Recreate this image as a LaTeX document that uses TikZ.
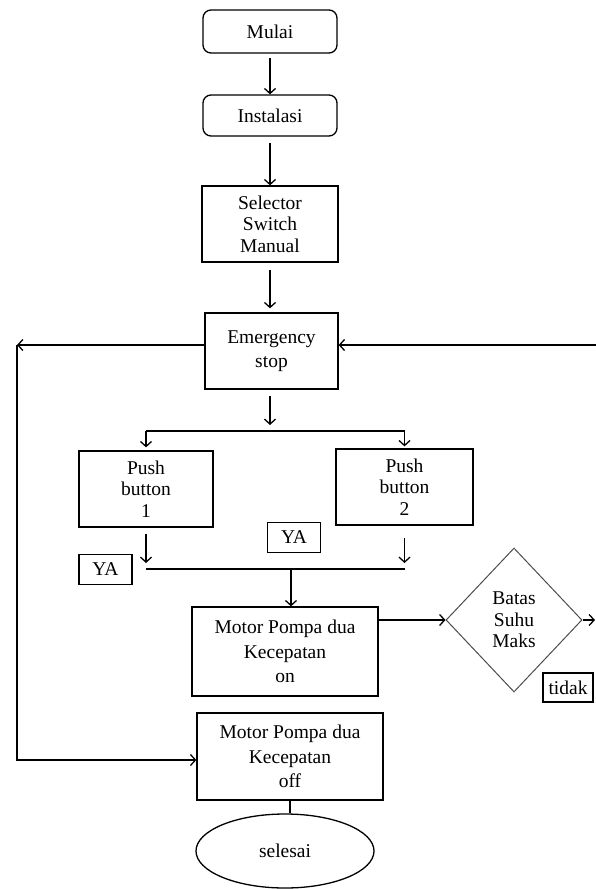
\documentclass[tikz,border=0pt]{standalone}
\usepackage{fontspec}
\setmainfont{Liberation Serif}
\usepackage{tikz}
\usetikzlibrary{positioning, shapes.geometric, arrows.meta}

\tikzset{
  txt/.style={font=\fontsize{19.5}{21.5}\selectfont, align=center, inner sep=0pt},
  rbox/.style={txt, draw, line width=1.3pt, rounded corners=8pt, minimum width=134pt},
  pbox/.style={txt, draw, line width=1.3pt},
  lbl/.style={txt, draw, line width=1.3pt, minimum width=53pt, minimum height=30pt},
  arr/.style={line width=1.3pt, -{Straight Barb[length=5pt,width=11pt]}},
  ln/.style={line width=1.3pt},
}

\begin{document}
\begin{tikzpicture}[x=1pt, y=-1pt]
            \useasboundingbox (0,0) rectangle (595,889);

            %Nodes
            \node[rbox, minimum height=43pt] at (270,31.5)  (mulai)     {Mulai};
            \node[rbox, minimum height=41pt] at (270,115.5) (instalasi) {Instalasi};
            \node[pbox, minimum width=136pt, minimum height=76pt] at (270,224) (selector) {Selector\\Switch\\Manual};
            \node[pbox, minimum width=133pt, minimum height=76pt] at (271.5,351) (emergency) {Emergency\\[2pt]stop};
            \node[pbox, minimum width=134pt, minimum height=76pt] at (146,489)   (pb1) {Push\\button\\1};
            \node[pbox, minimum width=137pt, minimum height=76pt] at (404.5,487) (pb2) {Push\\button\\2};
            \node[lbl] at (105.5,569.5) (ya1) {YA};
            \node[lbl] at (294,537.5)   (ya2) {YA};
            \node[pbox, minimum width=186pt, minimum height=89pt] at (285,651.5) (motoron)
                {Motor Pompa dua\\[3pt]Kecepatan\\[3pt]on};
            \node[txt, draw=gray!60!black, line width=1pt, shape=diamond,
                  minimum width=136pt, minimum height=144pt] at (514,620) (batas) {Batas\\Suhu\\Maks};
            \node[lbl, minimum width=50pt, minimum height=29pt] at (568,687.5) (tidak) {tidak};
            \node[pbox, minimum width=186pt, minimum height=87pt] at (290,756.5) (motoroff)
                {Motor Pompa dua\\[3pt]Kecepatan\\[3pt]off};
            \node[txt, draw, line width=1.3pt, shape=ellipse,
                  minimum width=178pt, minimum height=74pt] at (285,851) (selesai) {selesai};

            \coordinate (split) at (270,431);
            \coordinate (join)  at (291,569);
            \coordinate (lt)    at (17,345);
            \coordinate (lb)    at (17,760);
            \coordinate (rt)    at (597,345);
            \coordinate (out)   at (595,620);

            %Lines
            \draw[arr, shorten <=4pt] (mulai) -- (instalasi);
            \draw[arr, shorten <=6pt] (instalasi.south) -- (instalasi.south |- selector.north);
            \draw[arr, shorten <=7pt, shorten >=4pt] (selector.south) -- (selector.south |- emergency.north);
            \draw[arr, shorten <=6pt, shorten >=6pt] (split |- emergency.south) -- (split);
            \draw[ln] (split -| pb1.north) -- (split -| pb2.north);
            \draw[arr, shorten >=3pt] (split -| pb1.north) -- (pb1.north);
            \draw[arr, shorten >=2pt] (split -| pb2.north) -- (pb2.north);
            \draw[arr, shorten <=6pt, shorten >=6pt] (pb1.south) -- (join -| pb1.south);
            \draw[arr, shorten <=12pt, shorten >=6pt] (pb2.south) -- (join -| pb2.south);
            \draw[ln] (join -| pb1.south) -- (join -| pb2.south);
            \draw[arr] (join) -- (join |- motoron.north);
            \draw[arr] (motoron.east |- batas.west) -- (batas.west);
            \draw[arr] (batas.east) -- (out);
            \draw[arr] (lt -| emergency.west) -- (lt);
            \draw[arr] (lt) -- (lb) -- (lb -| motoroff.west);
            \draw[arr] (rt) -- (rt -| emergency.east);
            \draw[ln] (motoroff.south) -- (motoroff.south |- selesai.north);
        \end{tikzpicture}
\end{document}
